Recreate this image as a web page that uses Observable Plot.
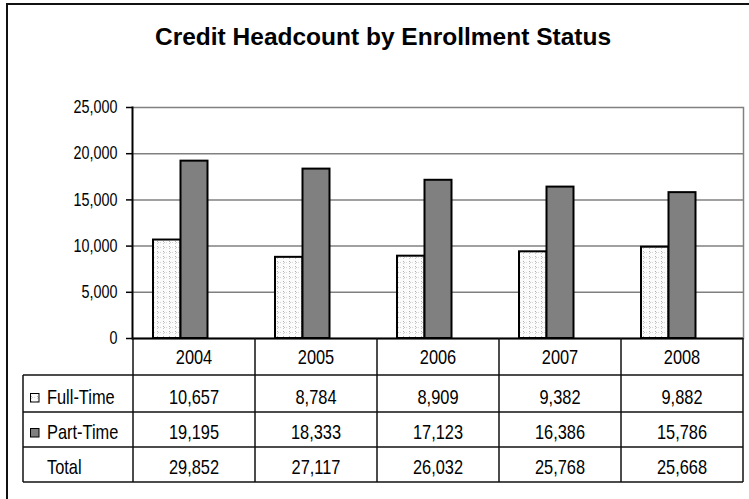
<!DOCTYPE html>
<html>
<head>
<meta charset="utf-8">
<script src="https://cdn.jsdelivr.net/npm/d3@7"></script>
<script src="https://cdn.jsdelivr.net/npm/@observablehq/plot@0.6"></script>
<style>
  html, body { margin: 0; padding: 0; background: #fff; }
  #wrap { position: relative; width: 749px; height: 499px; overflow: hidden; background: #fff; }
  #border { position: absolute; left: 6px; top: 3px; width: 800px; height: 600px; border-left: 2px solid #111; border-top: 2px solid #111; }
  #title { position: absolute; left: 0; top: 25px; width: 766px; text-align: center;
           font-family: "Liberation Sans", Arial, sans-serif; font-weight: bold; font-size: 24.5px; line-height: 1; color: #000; }
  #chart { position: absolute; left: 0; top: 0; }
</style>
</head>
<body>
<div id="wrap">
  <div id="border"></div>
  <div id="title">Credit Headcount by Enrollment Status</div>
  <div id="chart"></div>
</div>
<script>
const years = ["2004", "2005", "2006", "2007", "2008"];
const fullTime = [10657, 8784, 8909, 9382, 9882];
const partTime = [19195, 18333, 17123, 16386, 15786];
const totals = [29852, 27117, 26032, 25768, 25668];
const seriesNames = ["Full-Time", "Part-Time"];
const yTicks = [0, 5000, 10000, 15000, 20000, 25000];

const FONT = "'Liberation Sans', Arial, sans-serif";
const NARROW = 0.82; // horizontal squeeze to mimic Arial Narrow
const fmt = d3.format(",");

const ftData = years.map((year, i) => ({year, series: seriesNames[0], value: fullTime[i]}));
const ptData = years.map((year, i) => ({year, series: seriesNames[1], value: partTime[i]}));

const plot = Plot.plot({
  width: 749,
  height: 499,
  marginLeft: 132,
  marginRight: 6,
  marginTop: 107,
  marginBottom: 161,
  style: {fontFamily: FONT, fontSize: "17.5px", color: "#000", background: "transparent", overflow: "visible"},
  x: {domain: years, paddingInner: 0, paddingOuter: 0, axis: null},
  y: {domain: [0, 25000], axis: null, label: null},
  marks: [
    Plot.gridY(yTicks, {stroke: "#808080", strokeOpacity: 1, strokeWidth: 1.5}),
    Plot.frame({anchor: "right", stroke: "#808080", strokeOpacity: 1, strokeWidth: 1.5}),
    Plot.barY(ftData, {x: "year", y: "value", fill: "url(#ftDots)", stroke: "#000", strokeWidth: 2, insetLeft: 20, insetRight: 74.5}),
    Plot.barY(ptData, {x: "year", y: "value", fill: "#808080", stroke: "#000", strokeWidth: 2, insetLeft: 47.5, insetRight: 47.5}),
    Plot.axisY(yTicks, {tickFormat: fmt, tickSize: 6, tickPadding: 9, stroke: "#000", strokeWidth: 1.5, fontSize: 17.5, anchor: "left", label: null}),
    Plot.frame({anchor: "left", stroke: "#000", strokeOpacity: 1, strokeWidth: 2}),
    Plot.ruleY([0], {stroke: "#000", strokeWidth: 2})
  ]
});

document.getElementById("chart").appendChild(plot);

const svg = d3.select(plot);

// squeeze the y tick labels horizontally (narrow face)
svg.selectAll('[aria-label="y-axis tick label"] text').each(function() {
  const t = this.getAttribute("transform") || "";
  this.setAttribute("transform", t + ` scale(${NARROW},1)`);
});

// pattern for Full-Time bars
const defs = svg.insert("defs", ":first-child");
const pat = defs.append("pattern").attr("id", "ftDots").attr("patternUnits", "userSpaceOnUse")
  .attr("width", 6).attr("height", 5);
pat.append("rect").attr("width", 6).attr("height", 5).attr("fill", "#fbfbfb");
pat.append("rect").attr("x", 1).attr("y", 1).attr("width", 1).attr("height", 1).attr("fill", "#b0b0b0");
pat.append("rect").attr("x", 2).attr("y", 2).attr("width", 1).attr("height", 1).attr("fill", "#c8c8c8");
pat.append("rect").attr("x", 1).attr("y", 3).attr("width", 1).attr("height", 1).attr("fill", "#c8c8c8");
pat.append("rect").attr("x", 4).attr("y", 2).attr("width", 1).attr("height", 1).attr("fill", "#d8d8d8");

// data table below the plot, aligned on Plot's x scale
const xs = plot.scale("x");
const bw = xs.bandwidth;
const xEnd = xs.apply(years[years.length - 1]) + bw;
const tableLeft = 23;
const rowEdges = [338, 375, 412, 447, 482];
const rowBase = [364, 404, 439, 474];
const g = svg.append("g").attr("font-family", FONT).attr("font-size", 20).attr("fill", "#000");

function addText(x, y, str, anchor) {
  g.append("text")
    .attr("transform", `translate(${x},${y}) scale(${NARROW},1)`)
    .attr("text-anchor", anchor)
    .text(str);
}

// vertical lines at column edges
const colEdges = years.map(y => xs.apply(y)).concat([xEnd]);
g.selectAll("line.v").data(colEdges).join("line").attr("class", "v")
  .attr("x1", d => d).attr("x2", d => d).attr("y1", rowEdges[0]).attr("y2", rowEdges[4])
  .attr("stroke", "#111").attr("stroke-width", 1.5);
g.append("line").attr("x1", tableLeft).attr("x2", tableLeft).attr("y1", rowEdges[1]).attr("y2", rowEdges[4])
  .attr("stroke", "#111").attr("stroke-width", 1.5);
g.selectAll("line.h").data(rowEdges.slice(1)).join("line").attr("class", "h")
  .attr("x1", tableLeft).attr("x2", xEnd).attr("y1", d => d).attr("y2", d => d)
  .attr("stroke", "#111").attr("stroke-width", 1.5);

// year row
years.forEach(y => addText(xs.apply(y) + bw / 2, rowBase[0], y, "middle"));

const rows = [
  {label: "Full-Time", values: fullTime, key: "url(#ftDots)"},
  {label: "Part-Time", values: partTime, key: "#808080"},
  {label: "Total", values: totals, key: null}
];
rows.forEach((r, ri) => {
  const base = rowBase[ri + 1];
  if (r.key) {
    g.append("rect").attr("x", 30.5).attr("y", base - 10.5).attr("width", 8.5).attr("height", 8.5)
      .attr("fill", r.key).attr("stroke", "#000").attr("stroke-width", 1);
  }
  addText(47, base, r.label, "start");
  r.values.forEach((v, i) => addText(xs.apply(years[i]) + bw / 2, base, fmt(v), "middle"));
});
</script>
</body>
</html>
